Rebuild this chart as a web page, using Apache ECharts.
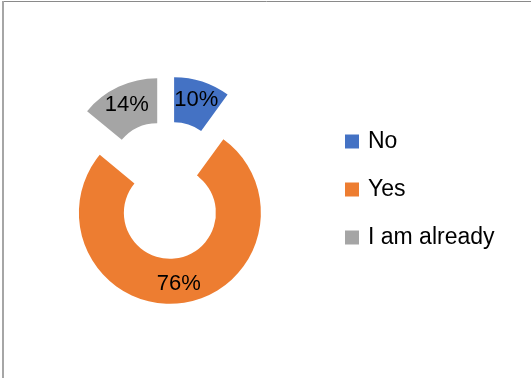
<!DOCTYPE html>
<html>
<head>
<meta charset="utf-8">
<script src="https://cdn.jsdelivr.net/npm/echarts@6/dist/echarts.min.js"></script>
<style>
  html, body { margin: 0; padding: 0; background: #ffffff; }
  #chart { width: 531px; height: 378px; }
</style>
</head>
<body>
<div id="chart"></div>
<script>
// Survey answers and their shares (percent)
const categories = ['No', 'Yes', 'I am already'];
const shares = [10, 76, 14];
const colors = ['#4472C4', '#ED7D31', '#A5A5A5'];

const FONT = '"Liberation Sans", Arial, sans-serif';

const chart = echarts.init(document.getElementById('chart'), null, { renderer: 'canvas' });

chart.setOption({
  animation: false,
  backgroundColor: '#ffffff',
  color: colors,
  graphic: [
    // frame around the chart area (top and left edges)
    { type: 'line', shape: { x1: 2, y1: 1.5, x2: 531, y2: 1.5 },
      style: { stroke: '#8a8a8a', lineWidth: 1 }, silent: true },
    { type: 'line', shape: { x1: 3, y1: 1, x2: 3, y2: 378 },
      style: { stroke: '#a6a6a6', lineWidth: 2 }, silent: true }
  ],
  legend: {
    orient: 'vertical',
    left: 340,
    top: 125,
    icon: 'rect',
    itemWidth: 14,
    itemHeight: 14,
    itemGap: 25,
    selectedMode: false,
    textStyle: {
      fontFamily: FONT,
      fontSize: 23,
      color: '#000000',
      padding: [0, 0, 0, 4]
    },
    data: categories
  },
  series: [{
    type: 'pie',
    center: [167, 190],
    radius: [46, 91],
    startAngle: 90,
    clockwise: true,
    selectedMode: 'multiple',
    selectedOffset: 23,
    avoidLabelOverlap: false,
    emphasis: { disabled: true },
    label: {
      show: true,
      position: 'inside',
      formatter: '{c}%',
      fontFamily: FONT,
      fontSize: 22,
      color: '#000000'
    },
    labelLine: { show: false },
    itemStyle: { borderWidth: 0 },
    data: categories.map((name, i) => ({ name: name, value: shares[i], selected: true }))
  }]
});
</script>
</body>
</html>
